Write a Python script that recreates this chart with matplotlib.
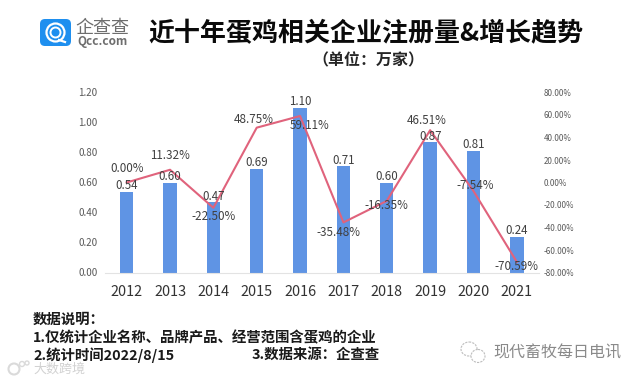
import matplotlib
matplotlib.use("Agg")
import matplotlib.pyplot as plt
from matplotlib.patches import FancyBboxPatch, Circle, Ellipse

plt.rcParams['font.family'] = ['Noto Sans CJK SC', 'DejaVu Sans']

years = ["2012", "2013", "2014", "2015", "2016", "2017", "2018", "2019", "2020", "2021"]
counts = [0.54, 0.60, 0.47, 0.69, 1.10, 0.71, 0.60, 0.87, 0.81, 0.24]
growth = [0.00, 11.32, -22.50, 48.75, 59.11, -35.48, -16.35, 46.51, -7.54, -70.59]
left_ticks = [0.00, 0.20, 0.40, 0.60, 0.80, 1.00, 1.20]
right_ticks = [-80, -60, -40, -20, 0, 20, 40, 60, 80]

title = "近十年蛋鸡相关企业注册量&增长趋势"
subtitle = "（单位：万家）"
note_head = "数据说明："
note_1 = "1.仅统计企业名称、品牌产品、经营范围含蛋鸡的企业"
note_2 = "2.统计时间2022/8/15"
note_3 = "3.数据来源：企查查"

# label offsets from the line points, in pixels
pct_dx = [0, 0, 0, -3, 10, -5, 0, -3, 2, 0]
pct_dy = [13.5, 14, -9, 8, -9, -10, -5, 10, 5, -5]

W, H = 641, 382
fig = plt.figure(figsize=(W / 100, H / 100), dpi=100)

# overlay in image pixels for logo, title and notes
bg = fig.add_axes([0, 0, 1, 1])
bg.set_xlim(0, W)
bg.set_ylim(H, 0)
bg.axis("off")

ax = fig.add_axes([105 / W, 1 - 272.5 / H, 433.5 / W, 180 / H])
ax.patch.set_alpha(0)
x = list(range(len(years)))
ax.bar(x, counts, width=0.31, color="#5F94E4")
ax.set_xlim(-0.5, 9.5)
ax.set_ylim(0, 1.2)
ax.set_xticks(x)
ax.set_xticklabels(years, fontsize=10.4, color="#333333")
ax.set_yticks(left_ticks)
ax.set_yticklabels(["%.2f" % t for t in left_ticks], fontsize=7, color="#595959")
ax.tick_params(axis="both", length=0)
ax.tick_params(axis="x", pad=9)
ax.tick_params(axis="y", pad=5.5)
for s in ["top", "left", "right"]:
    ax.spines[s].set_visible(False)
ax.spines["bottom"].set_color("#E3E3E3")

ax2 = ax.twinx()
ax2.plot(x, growth, color="#E0637C", linewidth=1.5)
ax2.set_ylim(-80, 80)
ax2.set_yticks(right_ticks)
ax2.set_yticklabels(["%.2f%%" % t for t in right_ticks], fontsize=5.8, color="#595959")
ax2.tick_params(axis="y", length=0, pad=3.5)
for s in ["top", "left", "right", "bottom"]:
    ax2.spines[s].set_visible(False)

for i in x:
    ax2.annotate("%.2f" % counts[i], xy=(i, counts[i] * 400 / 3 - 80), xytext=(0, 6),
                 textcoords="offset pixels", ha="center", va="center",
                 fontsize=8.3, color="#404040")
    ax2.annotate("%.2f%%" % growth[i], xy=(i, growth[i]), xytext=(pct_dx[i], pct_dy[i]),
                 textcoords="offset pixels", ha="center", va="center",
                 fontsize=8.4, color="#404040")

# logo
bg.add_patch(FancyBboxPatch((44, 23), 23, 19, boxstyle="round,pad=4,rounding_size=5",
                            fc="#1E8FEF", ec="none"))
bg.add_patch(Circle((55.5, 32.5), 9, fc="none", ec="white", lw=1.6))
bg.add_patch(Circle((55.5, 32.5), 5, fc="none", ec="white", lw=1.4))
bg.plot([59, 65], [40, 42], color="white", lw=1.6)
bg.text(102, 28, "企查查", fontsize=13, color="#6E6E6E", ha="center", va="center")
bg.text(102, 42, "Qcc.com", fontsize=8.5, color="#6E6E6E", ha="center", va="center",
        fontweight="bold")

bg.text(366, 34, title, fontsize=18.7, fontweight="bold", color="#0A0A0A",
        ha="center", va="center")
bg.text(368, 60, subtitle, fontsize=11.5, fontweight="bold", color="#262626",
        ha="center", va="center")

bg.text(33, 320, note_head, fontsize=10.4, fontweight="bold", color="#1A1A1A", va="center")
bg.text(33, 338, note_1, fontsize=10.4, fontweight="bold", color="#1A1A1A", va="center")
bg.text(33, 355, note_2, fontsize=10.4, fontweight="bold", color="#1A1A1A", va="center")
bg.text(252, 355, note_3, fontsize=10.4, fontweight="bold", color="#1A1A1A", va="center")

# watermarks
bg.text(33, 369, "大数跨境", fontsize=9.4, color="#D2D2D2", ha="left", va="center")
bg.add_patch(Ellipse((14, 369), 11, 11, fc="none", ec="#DADADA", lw=1.5))
bg.add_patch(Circle((22, 364), 2.5, fc="none", ec="#DADADA", lw=1))
bg.add_patch(Circle((27, 363), 2, fc="none", ec="#DADADA", lw=1))
bg.add_patch(Ellipse((469, 349), 16, 14, fc="white", ec="#BDBDBD", lw=0.8, ls=(0, (2, 1))))
bg.add_patch(Ellipse((478, 356), 14, 13, fc="white", ec="#BDBDBD", lw=0.8, ls=(0, (2, 1))))
bg.text(493, 353, "现代畜牧每日电讯", fontsize=11.5, color="#8A8A8A", ha="left", va="center")

fig.savefig("out.png", dpi=100)
